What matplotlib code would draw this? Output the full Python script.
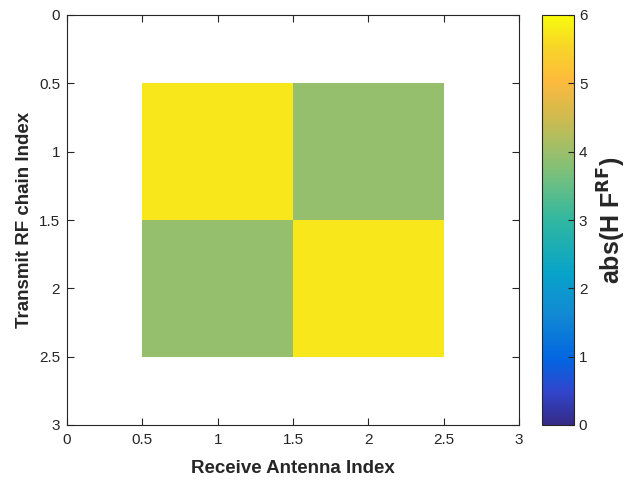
import numpy as np
import matplotlib
matplotlib.use("Agg")
import matplotlib.pyplot as plt
from matplotlib.colors import LinearSegmentedColormap

plt.rcParams['font.family'] = ['Liberation Sans', 'DejaVu Sans']

# |H F_RF| for 2 RF chains x 2 receive antennas
rf_chain = [1, 2]
rx_antenna = [1, 2]
vals = np.array([[5.75, 3.95],
                 [3.95, 5.75]])
ticks = [0, 0.5, 1, 1.5, 2, 2.5, 3]
tick_labels = ['0', '0.5', '1', '1.5', '2', '2.5', '3']
cbar_ticks = [0, 1, 2, 3, 4, 5, 6]

# rough parula
parula_pts = [
    (0.00, (0.2081, 0.1663, 0.5292)),
    (0.08, (0.1900, 0.2700, 0.8000)),
    (0.16, (0.0100, 0.4000, 0.8800)),
    (0.27, (0.0700, 0.5400, 0.8300)),
    (0.37, (0.0300, 0.6400, 0.7900)),
    (0.50, (0.1900, 0.7200, 0.6300)),
    (0.60, (0.4400, 0.7500, 0.5000)),
    (0.68, (0.6400, 0.7500, 0.4000)),
    (0.76, (0.8300, 0.7300, 0.3000)),
    (0.84, (0.9950, 0.7300, 0.2400)),
    (0.92, (0.9700, 0.8300, 0.1600)),
    (1.00, (0.9763, 0.9831, 0.0538)),
]
parula = LinearSegmentedColormap.from_list('parula', parula_pts, N=256)

fig = plt.figure(figsize=(6.29, 4.8), dpi=100)
ax = fig.add_axes([67/629, 1-425/480, 452/629, 410/480])
cax = fig.add_axes([542/629, 1-425/480, 32/629, 410/480])

im = ax.imshow(vals, cmap=parula, vmin=0, vmax=6, interpolation='nearest',
               extent=[rx_antenna[0]-0.5, rx_antenna[-1]+0.5,
                       rf_chain[-1]+0.5, rf_chain[0]-0.5], aspect='auto')
ax.set_xlim(0, 3)
ax.set_ylim(3, 0)
ax.set_xticks(ticks)
ax.set_xticklabels(tick_labels)
ax.set_yticks(ticks)
ax.set_yticklabels(tick_labels)
ax.tick_params(direction='in', length=5, labelsize=11, colors='#262626',
               top=True, right=True, width=0.8)
ax.tick_params(axis='x', pad=6)
ax.tick_params(axis='y', pad=5)
for s in ax.spines.values():
    s.set_color('#262626')
    s.set_linewidth(0.8)
ax.set_xlabel('Receive Antenna Index', fontsize=13.5, fontweight='bold', color='#262626',
              labelpad=9)
ax.set_ylabel('Transmit RF chain Index', fontsize=13.5, fontweight='bold', color='#262626',
              labelpad=4)

cb = fig.colorbar(im, cax=cax, ticks=cbar_ticks)
cb.ax.tick_params(direction='in', length=4, labelsize=11, colors='#262626', width=0.8)
cb.outline.set_edgecolor('#262626')
cb.outline.set_linewidth(0.8)
cb.set_label(r'abs(H F$^{\mathbf{RF}}$)', fontsize=18, fontweight='bold', color='#262626',
             labelpad=6)

fig.savefig('out.png', dpi=100)
